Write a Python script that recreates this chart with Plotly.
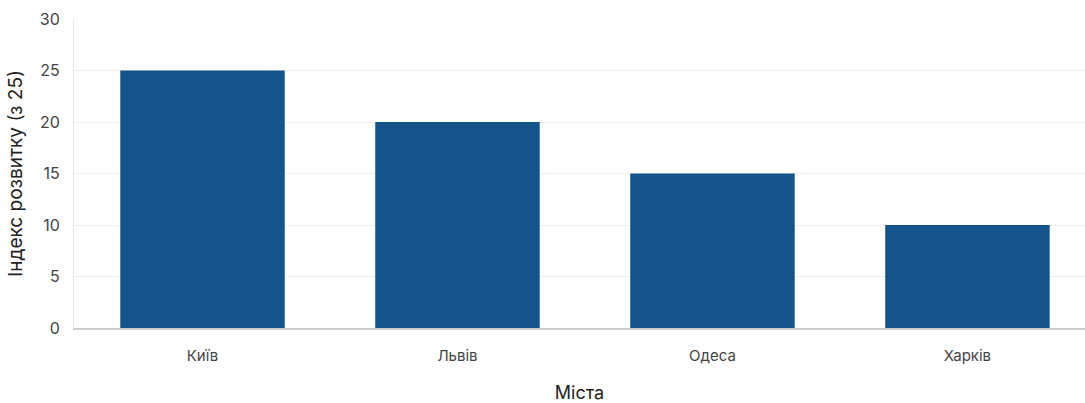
import plotly.graph_objects as go

cities = ["Київ", "Львів", "Одеса", "Харків"]
index_values = [25, 20, 15, 10]
y_ticks = [0, 5, 10, 15, 20, 25, 30]

fig = go.Figure(go.Bar(x=cities, y=index_values, marker=dict(color="#15548a", line=dict(width=0)), width=0.645))

fig.update_layout(
    width=1085, height=403, autosize=False,
    margin=dict(l=74, r=0, t=19, b=75),
    plot_bgcolor="white", paper_bgcolor="white",
    font=dict(family="Inter, Open Sans, sans-serif", color="#444", size=14),
    showlegend=False,
)
fig.update_xaxes(
    range=[-0.504, 3.461],
    showline=True, linecolor="#cccccc", linewidth=2,
    ticks="", tickfont=dict(size=15, color="#444"), ticklabelstandoff=13,
    title=dict(text="Міста", font=dict(size=18, color="#222"), standoff=24),
)
fig.update_yaxes(
    range=[0, 30], tickvals=y_ticks,
    showgrid=True, gridcolor="#eeeeee", gridwidth=1,
    showline=True, linecolor="#e4e4e4", linewidth=1,
    zeroline=False, ticks="", ticklen=0,
    tickfont=dict(size=16, color="#444"), ticklabelstandoff=10,
    title=dict(text="Індекс розвитку (з 25)", font=dict(size=19, color="#222"), standoff=12),
)

fig.write_html("out.html")
